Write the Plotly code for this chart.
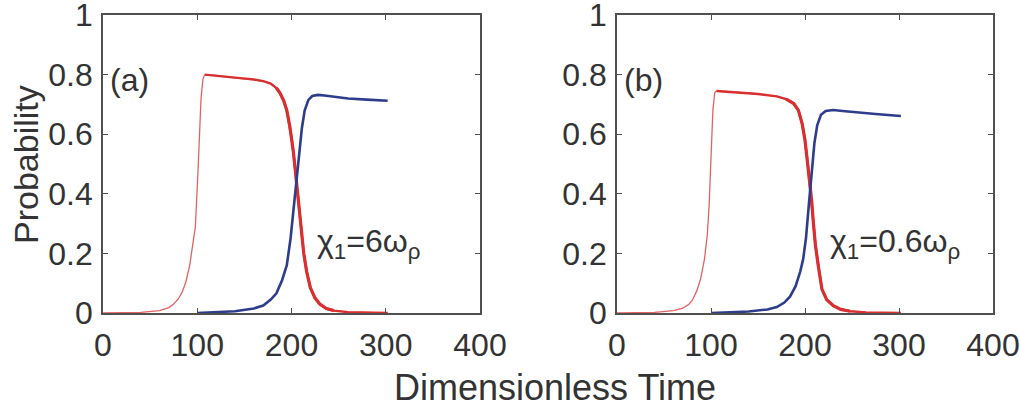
import plotly.graph_objects as go

# ---- data: occupation probabilities vs dimensionless time ----
# panel (a): chi_1 = 6 omega_rho
t_red_a = [0, 40, 60, 70, 75, 80, 84, 88, 92, 95, 98, 101, 104, 106, 108,
           120, 140, 160, 170, 178, 184, 188, 192, 195, 198, 200, 202, 204,
           206, 208, 210, 213, 216, 220, 225, 230, 237, 245, 260, 280, 302]
p_red_a = [0, 0.002, 0.008, 0.018, 0.03, 0.048, 0.07, 0.105, 0.16, 0.22, 0.29,
           0.49, 0.72, 0.785, 0.8, 0.797, 0.79, 0.784, 0.778, 0.77, 0.755,
           0.737, 0.71, 0.68, 0.63, 0.59, 0.54, 0.48, 0.42, 0.35, 0.28, 0.2,
           0.14, 0.085, 0.05, 0.03, 0.015, 0.008, 0.003, 0.001, 0]
t_blue_a = [100, 120, 140, 160, 170, 178, 184, 190, 195, 199, 202, 205, 208,
            211, 214, 218, 222, 228, 235, 245, 260, 280, 300, 302]
p_blue_a = [0, 0.002, 0.006, 0.015, 0.025, 0.045, 0.066, 0.11, 0.16, 0.25,
            0.34, 0.44, 0.54, 0.62, 0.68, 0.715, 0.728, 0.732, 0.73, 0.725,
            0.72, 0.716, 0.713, 0.712]

# panel (b): chi_1 = 0.6 omega_rho
t_red_b = [0, 40, 60, 70, 76, 80, 85, 89, 93, 96, 98, 100, 102, 104, 106,
           130, 150, 170, 180, 188, 193, 197, 200, 203, 205, 207, 209, 211,
           214, 218, 223, 230, 238, 248, 265, 290, 302]
p_red_b = [0, 0.002, 0.008, 0.016, 0.028, 0.042, 0.075, 0.115, 0.18, 0.26,
           0.36, 0.52, 0.68, 0.74, 0.745, 0.74, 0.735, 0.727, 0.718, 0.703,
           0.68, 0.635, 0.58, 0.5, 0.44, 0.38, 0.3, 0.23, 0.16, 0.08, 0.045,
           0.025, 0.012, 0.006, 0.002, 0.001, 0]
t_blue_b = [100, 120, 140, 160, 170, 178, 184, 190, 195, 198, 201, 204, 207,
            210, 213, 217, 222, 230, 240, 255, 275, 295, 302]
p_blue_b = [0, 0.002, 0.005, 0.012, 0.02, 0.035, 0.055, 0.09, 0.14, 0.18,
            0.25, 0.36, 0.48, 0.57, 0.63, 0.665, 0.678, 0.681, 0.678, 0.673,
            0.668, 0.663, 0.661]

x_ticks = [0, 100, 200, 300, 400]
y_ticks = [0, 0.2, 0.4, 0.6, 0.8, 1]
panel_labels = ["(a)", "(b)"]
coupling_labels = ["χ<sub>1</sub>=6ω<sub>ρ</sub>", "χ<sub>1</sub>=0.6ω<sub>ρ</sub>"]

RED = "rgb(216,48,48)"
RED_THIN = "rgba(222,70,70,0.85)"
BLUE = "rgb(46,60,140)"
AXIS = "#505050"
FONT = "Liberation Sans, Arial, Helvetica, sans-serif"
W, H = 1020, 408

fig = go.Figure()

panels = [
    (t_red_a, p_red_a, t_blue_a, p_blue_a, "x", "y"),
    (t_red_b, p_red_b, t_blue_b, p_blue_b, "x2", "y2"),
]
for tr, pr, tb, pb, xa, ya in panels:
    # thin red rise over the whole run
    fig.add_trace(go.Scatter(x=tr, y=pr, mode="lines", xaxis=xa, yaxis=ya,
                             line=dict(color=RED_THIN, width=1.3),
                             showlegend=False, hoverinfo="skip"))
    # heavier red from the plateau on, where fast oscillations broaden it
    top = pr.index(max(pr))
    fig.add_trace(go.Scatter(x=tr[top:], y=pr[top:], mode="lines",
                             xaxis=xa, yaxis=ya,
                             line=dict(color=RED, width=2.4),
                             showlegend=False, hoverinfo="skip"))
    sel = [i for i, t in enumerate(tr) if 180 <= t <= 250]
    fig.add_trace(go.Scatter(x=[tr[i] for i in sel], y=[pr[i] for i in sel],
                             mode="lines", xaxis=xa, yaxis=ya,
                             line=dict(color=RED, width=3.2),
                             showlegend=False, hoverinfo="skip"))
    fig.add_trace(go.Scatter(x=tb, y=pb, mode="lines", xaxis=xa, yaxis=ya,
                             line=dict(color=BLUE, width=2.6),
                             showlegend=False, hoverinfo="skip"))

common_x = dict(range=[0, 400], tickvals=x_ticks, ticks="inside", ticklen=5,
                tickcolor=AXIS, showline=True, linecolor=AXIS, linewidth=1.6,
                mirror="ticks", showgrid=False, zeroline=False, automargin=False,
                tickfont=dict(family=FONT, size=32, color="#333"),
                ticklabelstandoff=3, ticklabeloverflow="allow")
common_y = dict(range=[0, 1], tickvals=y_ticks, ticks="inside", ticklen=5,
                tickcolor=AXIS, showline=True, linecolor=AXIS, linewidth=1.6,
                mirror="ticks", showgrid=False, zeroline=False, automargin=False,
                tickfont=dict(family=FONT, size=32, color="#333"),
                ticklabelstandoff=2, ticklabeloverflow="allow")

y0, y1 = (H - 313) / H, (H - 15) / H
fig.update_layout(
    width=W, height=H,
    margin=dict(l=0, r=0, t=0, b=0, autoexpand=False),
    paper_bgcolor="white", plot_bgcolor="white",
    xaxis=dict(domain=[103 / W, 480 / W], anchor="y", **common_x),
    yaxis=dict(domain=[y0, y1], anchor="x", **common_y),
    xaxis2=dict(domain=[617 / W, 993 / W], anchor="y2", **common_x),
    yaxis2=dict(domain=[y0, y1], anchor="x2", **common_y),
)

ann = []
for k, (xa, ya) in enumerate([("x", "y"), ("x2", "y2")]):
    ann.append(dict(text=panel_labels[k], xref=xa + " domain", yref=ya + " domain",
                    x=0.07, y=(313 - 80) / 298, xanchor="center", yanchor="middle",
                    showarrow=False, font=dict(family=FONT, size=32, color="#333")))
    ann.append(dict(text=coupling_labels[k], xref=xa + " domain", yref=ya + " domain",
                    x=(315 - 103) / 377, y=(313 - 243) / 298, xanchor="left",
                    yanchor="middle", showarrow=False,
                    font=dict(family=FONT, size=32, color="#333")))
ann.append(dict(text="Probability", xref="paper", yref="paper",
                x=26 / W, y=(H - 165) / H, textangle=-90, xanchor="center",
                yanchor="middle", showarrow=False,
                font=dict(family=FONT, size=34, color="#333")))
ann.append(dict(text="Dimensionless Time", xref="paper", yref="paper",
                x=555 / W, y=(H - 387) / H, xanchor="center", yanchor="middle",
                showarrow=False, font=dict(family=FONT, size=36, color="#333")))
fig.update_layout(annotations=ann)

fig.write_html("out.html")
